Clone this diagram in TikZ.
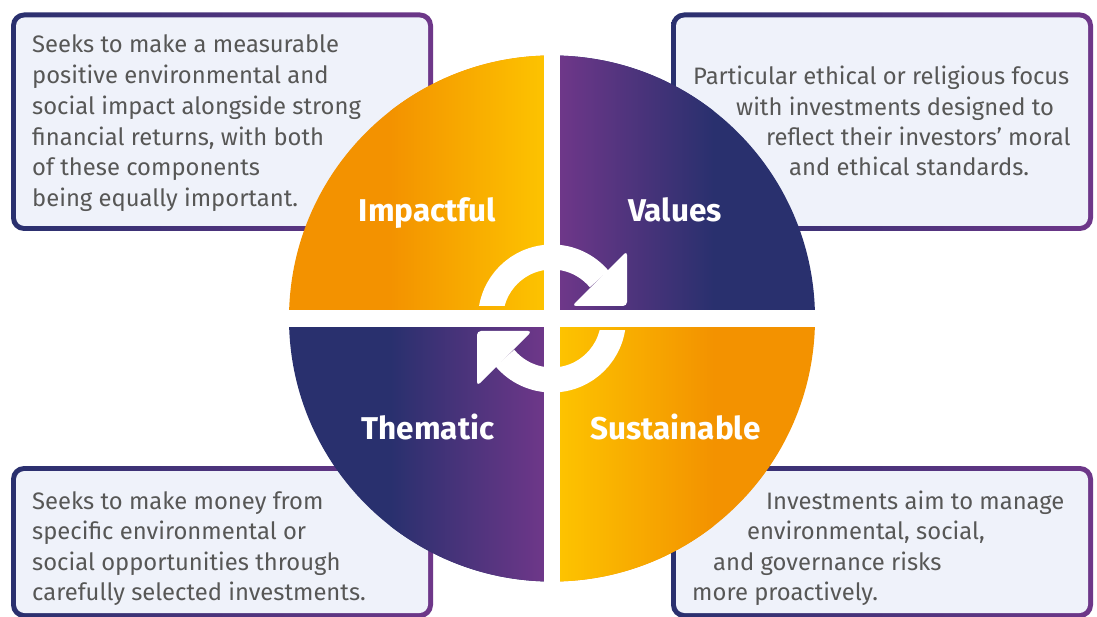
\documentclass[tikz,border=0pt]{standalone}
\usepackage{fontspec}
\setmainfont{Fira Sans}
\definecolor{navy}{HTML}{29306E}
\definecolor{purp}{HTML}{6E3789}
\definecolor{orng}{HTML}{F39200}
\definecolor{yell}{HTML}{FDC300}
\definecolor{boxfill}{HTML}{EFF2FA}
\definecolor{txt}{HTML}{575756}
\begin{document}
\begin{tikzpicture}[x=1pt,y=-1pt,
  body/.style={anchor=base west, inner sep=0pt, text=txt, font=\fontsize{23.8}{28}\selectfont},
  qlabel/.style={anchor=base, inner sep=0pt, text=white, font=\fontsize{31.5}{36}\selectfont\bfseries},
  frame/.style={left color=navy, right color=purp, rounded corners=13pt},
  inner/.style={fill=boxfill, rounded corners=8.5pt},
  arrowbody/.style={draw=white, line width=25pt},
  arrowhead/.style={fill=white, rounded corners=4pt}]
\useasboundingbox (0,0) rectangle (1097,617);
\fill[white] (0,0) rectangle (1097,617);

% boxes
\shade[frame] (11,12.5) rectangle (433,231);
\fill[inner] (16,17.5) rectangle (428,226);
\shade[frame] (671,12.5) rectangle (1093,231);
\fill[inner] (676,17.5) rectangle (1088,226);
\shade[frame] (11,466) rectangle (433,618);
\fill[inner] (16,471) rectangle (428,613);
\shade[frame] (671,466) rectangle (1093,618);
\fill[inner] (676,471) rectangle (1088,613);

% box texts
\node[body] (tl1) at (32,52.7) {Seeks to make a measurable};
\node[body] (tl2) at (32,83.5) {positive environmental and};
\node[body] (tl3) at (32,114.3) {social impact alongside strong};
\node[body] (tl4) at (32,145.1) {financial returns, with both};
\node[body] (tl5) at (32,175.9) {of these components};
\node[body] (tl6) at (32,206.7) {being equally important.};

\node[body] (tr1) at (693,85) {Particular ethical or religious focus};
\node[body] (tr2) at (736,115.3) {with investments designed to};
\node[body] (tr3) at (766,145.6) {reflect their investors’ moral};
\node[body] (tr4) at (789,176) {and ethical standards.};

\node[body] (bl1) at (32,509.3) {Seeks to make money from};
\node[body] (bl2) at (32,539.6) {specific environmental or};
\node[body] (bl3) at (32,570) {social opportunities through};
\node[body] (bl4) at (32,600.5) {carefully selected investments.};

\node[body] (br1) at (766,509.3) {Investments aim to manage};
\node[body] (br2) at (747,539.6) {environmental, social,};
\node[body] (br3) at (713,570) {and governance risks};
\node[body] (br4) at (692,600.5) {more proactively.};

% quadrants
\begin{scope}
  \clip (552,318.5) circle[radius=263];
  \fill[orng] (288,55) rectangle (544,310);
  \shade[left color=orng, right color=yell] (390,55) rectangle (544,310);
  \fill[navy] (560,55) rectangle (816,310);
  \shade[left color=purp, right color=navy] (560,55) rectangle (714,310);
  \fill[navy] (288,327) rectangle (544,582);
  \shade[left color=navy, right color=purp] (390,327) rectangle (544,582);
  \fill[orng] (560,327) rectangle (816,582);
  \shade[left color=yell, right color=orng] (560,327) rectangle (714,582);
\end{scope}
% white gaps between the quadrants
\fill[white] (544,50) rectangle (560,587);
\fill[white] (283,310) rectangle (821,327);

% cycle arrows
\begin{scope}
  \clip (400,200) rectangle (700,306);
  \draw[arrowbody] (490.5,318.5) arc[start angle=180, end angle=320, radius=61.5];
\end{scope}
\fill[arrowhead] (627,306) -- (627,251) -- (572,306) -- cycle;
\begin{scope}
  \clip (400,331) rectangle (700,440);
  \draw[arrowbody] (613.5,318.5) arc[start angle=0, end angle=140, radius=61.5];
\end{scope}
\fill[arrowhead] (477,331) -- (477,386) -- (532,331) -- cycle;

% quadrant labels
\node[qlabel] (imp) at (427.5,222) {Impactful};
\node[qlabel] (val) at (675,222) {Values};
\node[qlabel] (the) at (428,439) {Thematic};
\node[qlabel] (sus) at (675.5,439) {Sustainable};
\end{tikzpicture}
\end{document}
